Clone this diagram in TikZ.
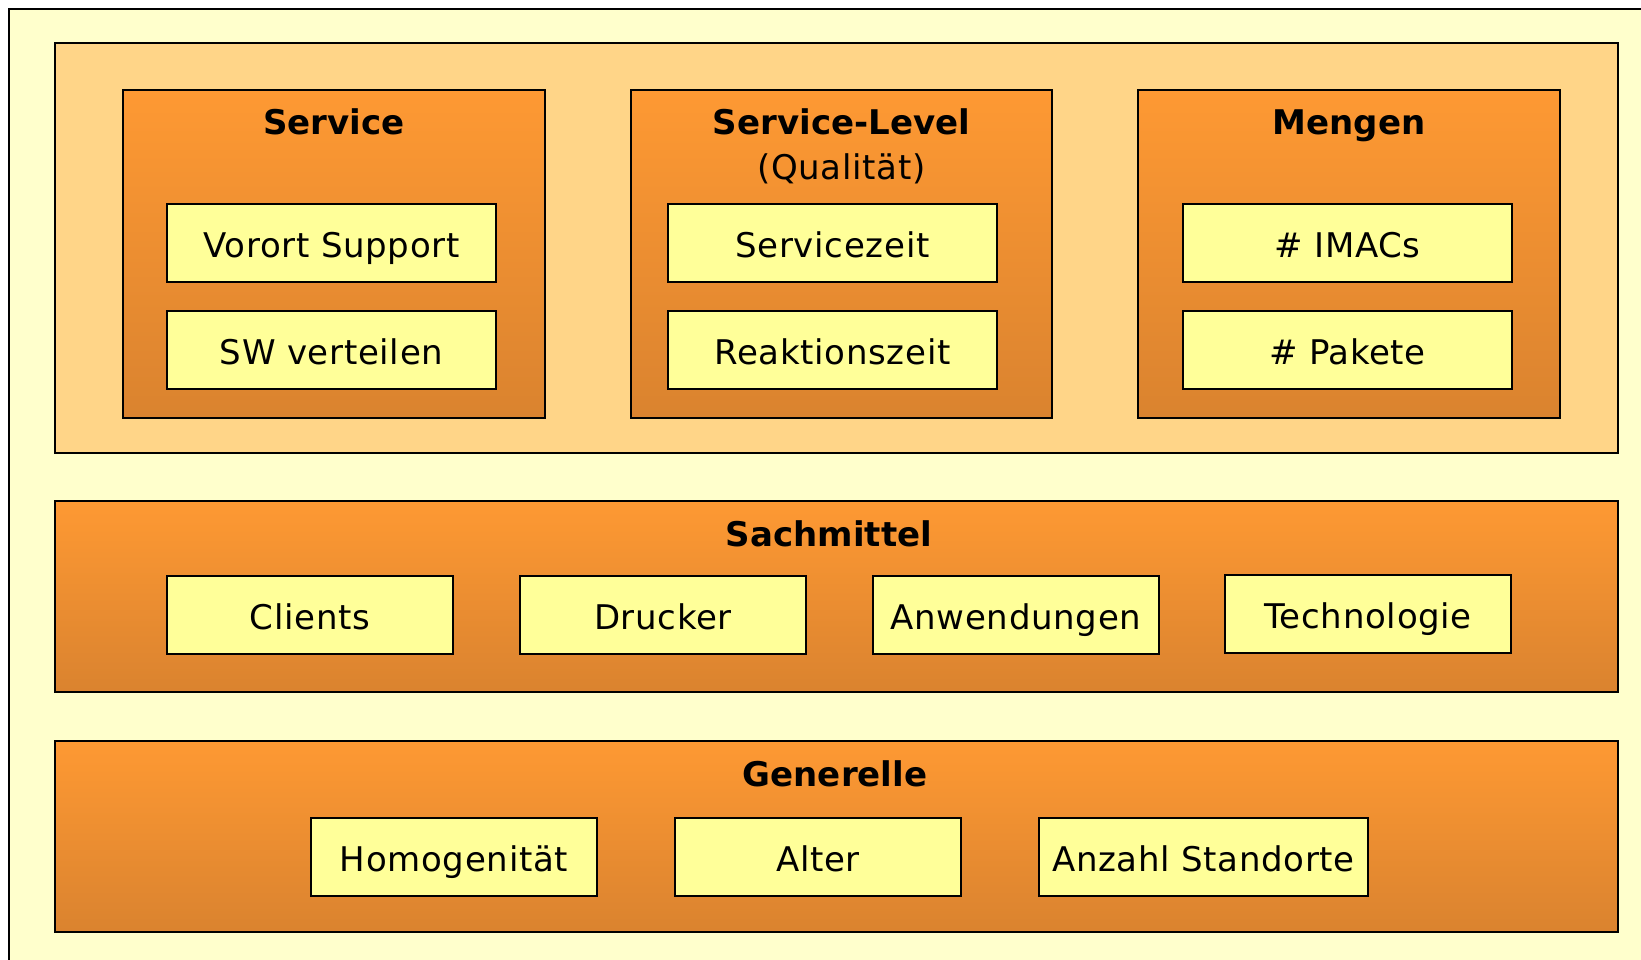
\documentclass[tikz,border=0pt]{standalone}
\usepackage{fontspec}
\setmainfont{DejaVu Sans}
\newfontfamily\itemfont[LetterSpace=2.0]{DejaVu Sans}

\definecolor{bgyellow}{RGB}{255,255,204}
\definecolor{panelorange}{RGB}{255,213,136}
\definecolor{boxtop}{RGB}{254,153,51}
\definecolor{boxbottom}{RGB}{218,131,47}
\definecolor{itemyellow}{RGB}{255,255,153}

\tikzset{
  frame/.style={draw=black, line width=2pt, fill=bgyellow},
  lightpanel/.style={draw=black, line width=2pt, fill=panelorange,
    rectangle, inner sep=0pt, anchor=north west},
  groupbox/.style={draw=black, line width=2pt, top color=boxtop,
    bottom color=boxbottom, rectangle, inner sep=0pt, anchor=north west},
  itembox/.style={draw=black, line width=2pt, fill=itemyellow, rectangle,
    inner sep=0pt, anchor=north west, minimum height=78pt,
    text height=29pt, text depth=0pt,
    font=\itemfont\fontsize{34}{40}\selectfont},
  grouptitle/.style={anchor=base, inner sep=0pt,
    font=\fontsize{34}{40}\selectfont\bfseries},
  subtitle/.style={anchor=base, inner sep=0pt,
    font=\itemfont\fontsize{34}{40}\selectfont},
}

\begin{document}
\begin{tikzpicture}[x=1pt, y=-1pt]
  \useasboundingbox (0,0) rectangle (1641,960);
  \clip (0,0) rectangle (1641,960);

  % outer frame running off the right and bottom edges
  \path[frame] (8.5,9.5) rectangle (1680,1000);

  % upper panel with the three groups
  \node[lightpanel, minimum width=1563pt, minimum height=410pt] (upper) at (54,42) {};

  \node[groupbox, minimum width=422pt, minimum height=328pt] (service) at (122,89) {};
  \node[groupbox, minimum width=421pt, minimum height=328pt] (level) at (630,89) {};
  \node[groupbox, minimum width=422pt, minimum height=328pt] (mengen) at (1137,89) {};

  \node[grouptitle] (serviceT) at (service.north |- 0,135) {Service};
  \node[grouptitle] (levelT) at (level.north |- 0,135) {Service-Level};
  \node[subtitle] (levelQ) at (level.north |- 0,180) {(Qualität)};
  \node[grouptitle] (mengenT) at (mengen.north |- 0,135) {Mengen};

  \node[itembox, minimum width=329pt] (vorort) at (166,203) {Vorort Support};
  \node[itembox, minimum width=329pt] (swvert) at (166,310) {SW verteilen};
  \node[itembox, minimum width=329pt] (szeit) at (667,203) {Servicezeit};
  \node[itembox, minimum width=329pt] (rzeit) at (667,310) {Reaktionszeit};
  \node[itembox, minimum width=329pt] (imacs) at (1182,203) {\# IMACs};
  \node[itembox, minimum width=329pt] (pakete) at (1182,310) {\# Pakete};

  % Sachmittel panel
  \node[groupbox, minimum width=1563pt, minimum height=191pt] (sach) at (54,500) {};
  \node[grouptitle] (sachT) at (829,546) {Sachmittel};
  \node[itembox, minimum width=286pt] (clients) at (166,575) {Clients};
  \node[itembox, minimum width=286pt] (drucker) at (519,575) {Drucker};
  \node[itembox, minimum width=286pt] (anwend) at (872,575) {Anwendungen};
  \node[itembox, minimum width=286pt] (techno) at (1224,574) {Technologie};

  % Generelle panel
  \node[groupbox, minimum width=1563pt, minimum height=191pt] (gen) at (54,740) {};
  \node[grouptitle] (genT) at (835,786) {Generelle};
  \node[itembox, minimum width=286pt] (homog) at (310,817) {Homogenität};
  \node[itembox, minimum width=286pt] (alter) at (674,817) {Alter};
  \node[itembox, minimum width=329pt] (anzahl) at (1038,817) {Anzahl Standorte};
\end{tikzpicture}
\end{document}
